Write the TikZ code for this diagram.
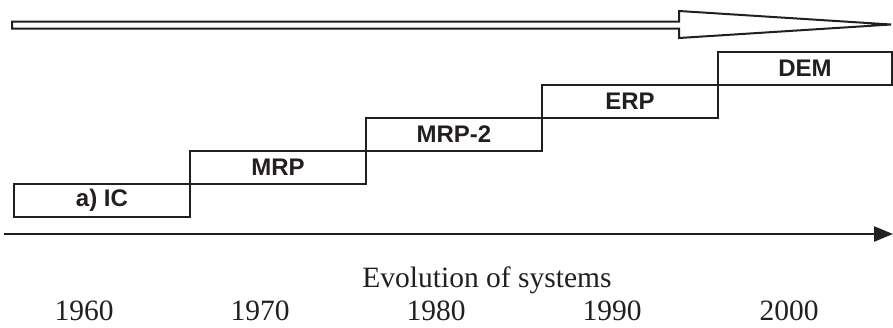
\documentclass[tikz,border=0pt]{standalone}
\usepackage{fontspec}
\setmainfont{Liberation Serif}
\newfontfamily\labelfont{Liberation Sans}
\usetikzlibrary{arrows.meta}
\definecolor{ink}{HTML}{231F20}
\tikzset{
  stage/.style={draw=ink, line width=2.4pt, minimum width=176pt, minimum height=33pt,
    inner sep=0pt, font=\labelfont\bfseries\fontsize{24}{24}\selectfont, text=ink},
  yearlabel/.style={font=\fontsize{29.5}{29.5}\selectfont, text=ink, inner sep=0pt, anchor=base},
}
\begin{document}
\begin{tikzpicture}[x=1pt,y=-1pt]
  \useasboundingbox (0,0) rectangle (893,327);

  % hollow arrow across the top
  \draw[ink, line width=2pt, line join=miter]
    (12,21.5) -- (679,21.5) -- (679,11) -- (891,24.5) -- (679,38) -- (679,28.5) -- (12,28.5) -- cycle;

  % staircase of system stages
  \node[stage] (ic)   at (102,200.5) {a) IC};
  \node[stage] (mrp)  at (278,167.5) {MRP};
  \node[stage] (mrp2) at (454,134.5) {MRP-2};
  \node[stage] (erp)  at (630,101.5) {ERP};
  \node[stage, minimum width=174pt] (dem) at (805,68.5) {DEM};

  % time axis
  \coordinate (axisstart) at (4,234);
  \coordinate (axisend) at (893,234);
  \draw[ink, line width=2.4pt, -{Triangle[length=19pt,width=15pt]}] (axisstart) -- (axisend);

  \node[yearlabel] (title) at (487,287) {Evolution of systems};
  \node[yearlabel] (y1960) at (84,320) {1960};
  \node[yearlabel] (y1970) at (260,320) {1970};
  \node[yearlabel] (y1980) at (436,320) {1980};
  \node[yearlabel] (y1990) at (612,320) {1990};
  \node[yearlabel] (y2000) at (789,320) {2000};
\end{tikzpicture}
\end{document}
